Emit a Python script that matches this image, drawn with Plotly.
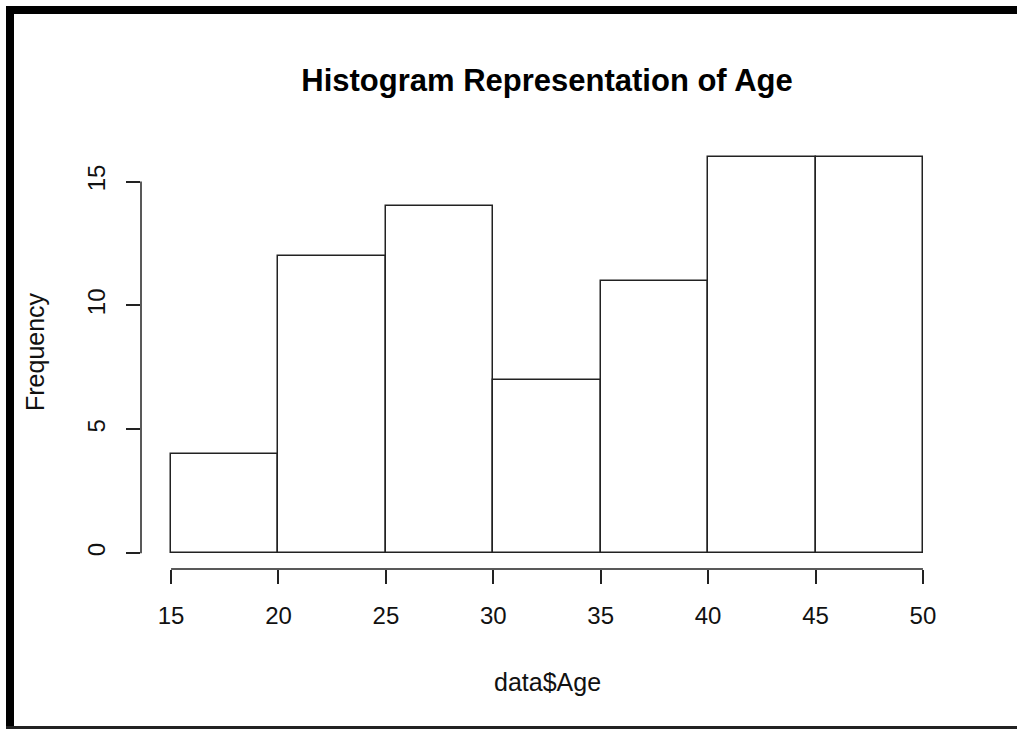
import plotly.graph_objects as go

# Data
bin_starts = [15, 20, 25, 30, 35, 40, 45]
bin_width = 5
counts = [4, 12, 14, 7, 11, 16, 16]
x_ticks = [15, 20, 25, 30, 35, 40, 45, 50]
y_ticks = [0, 5, 10, 15]

W, H = 1017, 729
L, R, T, B = 141, 953, 141, 569  # plot area in pixels

def pxx(p):
    return (p - L) / (R - L)

def pxy(p):
    return (B - p) / (B - T)

centers = [s + bin_width / 2 for s in bin_starts]

fig = go.Figure()
fig.add_trace(go.Bar(
    x=centers, y=counts, width=[bin_width] * len(counts),
    marker=dict(color="white", line=dict(color="#222222", width=1.5)),
    hoverinfo="x+y", showlegend=False,
))

font = "Liberation Sans, Arial, sans-serif"

fig.update_layout(
    width=W, height=H,
    margin=dict(l=L, r=W - R, t=T, b=H - B, pad=0),
    paper_bgcolor="white", plot_bgcolor="white",
    font=dict(family=font, size=24, color="#111111"),
    bargap=0,
    title=dict(text="<b>Histogram Representation of Age</b>",
               font=dict(family=font, size=31, color="#000000"),
               x=0.5, xref="paper", y=1 - 80 / H, yref="container",
               xanchor="center", yanchor="middle"),
    xaxis=dict(range=[13.6, 51.4], tickvals=x_ticks, ticktext=[str(v) for v in x_ticks],
               ticks="outside", ticklen=14, tickwidth=1.5, tickcolor="#222222",
               showgrid=False, zeroline=False, showline=False,
               ticklabelstandoff=11, fixedrange=True),
    yaxis=dict(range=[-0.64, 16.64], tickvals=y_ticks, ticktext=[str(v) for v in y_ticks],
               ticks="outside", ticklen=14, tickwidth=1.5, tickcolor="#222222",
               tickangle=-90,
               showgrid=False, zeroline=False, showline=False,
               ticklabelstandoff=11, fixedrange=True),
)

shapes = []
# R-style axis lines (from first to last tick)
shapes.append(dict(type="line", xref="x", yref="paper", x0=x_ticks[0], x1=x_ticks[-1], y0=0, y1=0,
                   line=dict(color="#222222", width=1.5)))
shapes.append(dict(type="line", xref="paper", yref="y", x0=0, x1=0, y0=y_ticks[0], y1=y_ticks[-1],
                   line=dict(color="#222222", width=1.5)))
# outer frame of the screenshot
shapes.append(dict(type="rect", xref="paper", yref="paper", x0=pxx(6), x1=pxx(14), y0=pxy(729), y1=pxy(6),
                   fillcolor="black", line=dict(width=0), layer="above"))
shapes.append(dict(type="rect", xref="paper", yref="paper", x0=pxx(6), x1=pxx(1017), y0=pxy(14), y1=pxy(6),
                   fillcolor="black", line=dict(width=0), layer="above"))
shapes.append(dict(type="rect", xref="paper", yref="paper", x0=pxx(6), x1=pxx(1017), y0=pxy(729), y1=pxy(726),
                   fillcolor="#222222", line=dict(width=0), layer="above"))
fig.update_layout(shapes=shapes)

fig.add_annotation(text="data$Age", xref="paper", yref="paper", x=0.5, y=pxy(682),
                   xanchor="center", yanchor="middle", showarrow=False,
                   font=dict(family=font, size=25, color="#111111"))
fig.add_annotation(text="Frequency", xref="paper", yref="paper", x=pxx(35), y=pxy(352),
                   xanchor="center", yanchor="middle", showarrow=False, textangle=-90,
                   font=dict(family=font, size=25, color="#111111"))

fig.write_html("out.html", config={"displayModeBar": False})
